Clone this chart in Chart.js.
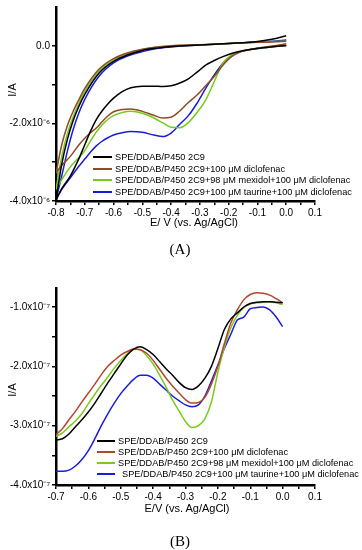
<!DOCTYPE html>
<html><head><meta charset="utf-8">
<script src="https://cdn.jsdelivr.net/npm/chart.js@4.4.1/dist/chart.umd.min.js"></script>
<style>
html,body{margin:0;padding:0;background:#fff;}
body{width:362px;height:550px;position:relative;overflow:hidden;font-family:"Liberation Sans",Arial,sans-serif;color:#000;}
canvas{position:absolute;left:0;}
.lbl{position:absolute;white-space:nowrap;color:#000;}
.yt{transform:translate(-50%,-50%) rotate(-90deg);font-size:11px;}
.xt{transform:translate(-50%,-50%);font-size:11px;}
.pan{transform:translate(-50%,-50%);font-family:"Liberation Serif","Times New Roman",serif;font-size:15px;}
.lrow{position:absolute;white-space:nowrap;font-size:9.2px;height:12px;line-height:12px;}
.sw{position:absolute;height:2px;}
</style></head><body>
<canvas id="cA" width="362" height="232" style="top:0"></canvas>
<canvas id="cB" width="362" height="232" style="top:280px"></canvas>
<div class="lbl yt" style="left:12px;top:90px">I/A</div>
<div class="lbl xt" style="left:194px;top:222px">E/ V (vs. Ag/AgCl)</div>
<div class="lbl pan" style="left:180px;top:249px">(A)</div>
<div class="lbl yt" style="left:12px;top:390px">I/A</div>
<div class="lbl xt" style="left:187px;top:508px">E/V (vs. Ag/AgCl)</div>
<div class="lbl pan" style="left:180px;top:541px">(B)</div>
<div id="legA"></div>
<div id="legB"></div>
<script>
// ---------- Series names ----------
const seriesNames = [
  "SPE/DDAB/P450 2C9",
  "SPE/DDAB/P450 2C9+100 \u03bcM diclofenac",
  "SPE/DDAB/P450 2C9+98 \u03bcM mexidol+100 \u03bcM diclofenac",
  "SPE/DDAB/P450 2C9+100 \u03bcM taurine+100 \u03bcM diclofenac"
];
const colorsA = ['#000000', '#8f4a26', '#72cc1c', '#1c1cd8'];
const colorsB = ['#000000', '#b3472e', '#7acb1e', '#1c1ce0'];

// ---------- Panel A: cyclic voltammograms (I in units of 1e-6 A) ----------
const eUpperA = [-0.80,-0.78,-0.76,-0.74,-0.72,-0.70,-0.65,-0.60,-0.55,-0.50,-0.45,-0.40,-0.35,-0.30,-0.20,-0.10,-0.05,0.00];
const upperA_black = [-3.97,-3.05,-2.40,-1.92,-1.55,-1.25,-0.70,-0.40,-0.23,-0.12,-0.06,-0.02,0.00,0.02,0.06,0.11,0.17,0.26];
const upperA_brown = [-3.28,-2.55,-2.05,-1.68,-1.38,-1.10,-0.60,-0.33,-0.18,-0.09,-0.03,0.00,0.02,0.03,0.06,0.09,0.10,0.12];
const upperA_green = [-3.70,-2.85,-2.25,-1.82,-1.48,-1.17,-0.65,-0.36,-0.20,-0.10,-0.04,-0.01,0.01,0.02,0.06,0.09,0.11,0.12];
const upperA_blue  = [-3.97,-3.35,-2.70,-2.15,-1.72,-1.38,-0.78,-0.44,-0.26,-0.15,-0.07,-0.03,0.00,0.02,0.06,0.10,0.12,0.15];

const eLowerA = [-0.80,-0.78,-0.75,-0.72,-0.70,-0.68,-0.66,-0.64,-0.62,-0.60,-0.57,-0.54,-0.50,-0.46,-0.43,-0.40,-0.37,-0.34,-0.31,-0.28,-0.25,-0.22,-0.19,-0.16,-0.12,-0.08,-0.04,0.00];
const lowerA_black = [-3.97,-3.68,-3.35,-2.90,-2.55,-2.20,-1.90,-1.68,-1.50,-1.35,-1.18,-1.08,-1.04,-1.04,-1.05,-1.03,-0.96,-0.85,-0.68,-0.50,-0.38,-0.28,-0.20,-0.14,-0.09,-0.05,-0.02,0.01];
const lowerA_brown = [-3.28,-3.08,-2.85,-2.55,-2.38,-2.24,-2.12,-1.96,-1.81,-1.70,-1.64,-1.63,-1.69,-1.79,-1.86,-1.84,-1.68,-1.46,-1.27,-1.03,-0.79,-0.50,-0.28,-0.16,-0.09,-0.04,0.00,0.05];
const lowerA_green = [-3.70,-3.45,-3.12,-2.88,-2.70,-2.45,-2.22,-2.04,-1.90,-1.80,-1.72,-1.69,-1.74,-1.86,-1.98,-2.10,-2.11,-1.98,-1.72,-1.40,-0.92,-0.45,-0.24,-0.15,-0.09,-0.05,-0.02,0.01];
const lowerA_blue  = [-3.97,-3.70,-3.40,-3.10,-2.92,-2.74,-2.58,-2.46,-2.37,-2.30,-2.24,-2.21,-2.23,-2.30,-2.34,-2.25,-2.02,-1.80,-1.48,-1.10,-0.75,-0.45,-0.25,-0.15,-0.09,-0.05,-0.02,0.01];

const yTicksA = [-4,-3,-2,-1,0];
const yTickLabelsA = ['-4.0x10\u207b\u2076','','-2.0x10\u207b\u2076','','0.0'];

// ---------- Panel B: linear sweeps (I in units of 1e-7 A) ----------
const eB = [-0.70,-0.68,-0.66,-0.64,-0.62,-0.60,-0.58,-0.56,-0.54,-0.52,-0.50,-0.48,-0.46,-0.44,-0.42,-0.40,-0.38,-0.36,-0.34,-0.32,-0.30,-0.28,-0.26,-0.24,-0.22,-0.20,-0.18,-0.16,-0.14,-0.12,-0.10,-0.08,-0.06,-0.04,-0.02,0.00];
const b_black = [-3.24,-3.22,-3.14,-3.02,-2.90,-2.77,-2.62,-2.45,-2.28,-2.12,-1.96,-1.81,-1.71,-1.67,-1.72,-1.80,-1.92,-2.04,-2.15,-2.27,-2.36,-2.39,-2.33,-2.20,-2.00,-1.70,-1.38,-1.20,-1.10,-1.00,-0.94,-0.92,-0.91,-0.91,-0.92,-0.93];
const b_brown = [-3.15,-3.05,-2.90,-2.76,-2.60,-2.45,-2.30,-2.14,-2.00,-1.90,-1.81,-1.75,-1.71,-1.72,-1.78,-1.90,-2.05,-2.20,-2.33,-2.45,-2.56,-2.62,-2.61,-2.52,-2.30,-2.00,-1.62,-1.27,-1.05,-0.88,-0.79,-0.76,-0.77,-0.80,-0.86,-0.93];
const b_green = [-3.18,-3.12,-3.02,-2.92,-2.80,-2.63,-2.47,-2.32,-2.18,-2.03,-1.90,-1.79,-1.71,-1.72,-1.82,-1.96,-2.15,-2.35,-2.57,-2.75,-2.93,-3.03,-3.00,-2.88,-2.60,-2.10,-1.68,-1.35,-1.14,-1.01,-0.95,-0.93,-0.92,-0.91,-0.93,-0.96];
const b_blue  = [-3.77,-3.77,-3.75,-3.68,-3.57,-3.42,-3.22,-3.00,-2.80,-2.62,-2.46,-2.33,-2.22,-2.15,-2.15,-2.20,-2.30,-2.40,-2.50,-2.58,-2.65,-2.68,-2.65,-2.50,-2.25,-1.98,-1.70,-1.46,-1.22,-1.17,-1.03,-1.01,-1.00,-1.05,-1.17,-1.33];

const yTicksB = [-4,-3.5,-3,-2.5,-2,-1.5,-1];
const yTickLabelsB = ['-4.0x10\u207b\u2077','','-3.0x10\u207b\u2077','','-2.0x10\u207b\u2077','','-1.0x10\u207b\u2077'];

function pts(xs, ys){ return xs.map((x,i)=>({x:x, y:ys[i]})); }
function ds(xs, ys, color){
  return {data:pts(xs,ys), borderColor:color, borderWidth:1.5, pointRadius:0, showLine:true,
          fill:false, cubicInterpolationMode:'monotone'};
}
function xTicks(min, max){
  const out=[]; for(let k=Math.round(min*20); k<=Math.round(max*20); k++) out.push(k);
  return out;
}
const tickFont = {family:'"Liberation Sans", Arial, sans-serif', size:10};

function makeChart(id, datasets, o){
  const xk = xTicks(o.xmin, o.xmax);
  return new Chart(document.getElementById(id), {
    type:'scatter',
    data:{datasets:datasets},
    options:{
      responsive:false, animation:false, events:[],
      layout:{padding:{top:o.top, right:47, left:0, bottom:0}},
      plugins:{legend:{display:false}, tooltip:{enabled:false}},
      scales:{
        x:{type:'linear', min:o.xmin, max:o.xmax,
           afterBuildTicks:s=>{ s.ticks = xk.map(k=>({value:k/20})); },
           afterFit:s=>{ s.height=o.xh; s.paddingLeft=0; s.paddingRight=0; },
           grid:{drawOnChartArea:false, drawTicks:true, tickLength:4, color:'#000', lineWidth:1.5},
           border:{display:true, color:'#000', width:2.5},
           ticks:{font:tickFont, color:'#000', padding:2, maxRotation:0, autoSkip:false,
             callback:(v,i)=>{ const k=xk[i]; if(k%2!==0) return ''; return Math.abs(k)<1e-9 ? '0.0' : (k/20).toFixed(1); }}
        },
        y:{type:'linear', min:o.ymin, max:o.ymax,
           afterBuildTicks:s=>{ s.ticks = o.yt.map(v=>({value:v})); },
           afterFit:s=>{ s.width=56; s.paddingTop=0; s.paddingBottom=0; },
           grid:{drawOnChartArea:false, drawTicks:true, tickLength:4, color:'#000', lineWidth:1.5},
           border:{display:true, color:'#000', width:2.5},
           ticks:{font:tickFont, color:'#000', padding:2, autoSkip:false,
             callback:(v,i)=> o.yl[i]}
        }
      }
    }
  });
}

const dsA = [
  ds(eUpperA, upperA_black, colorsA[0]), ds(eLowerA, lowerA_black, colorsA[0]),
  ds(eUpperA, upperA_brown, colorsA[1]), ds(eLowerA, lowerA_brown, colorsA[1]),
  ds(eUpperA, upperA_green, colorsA[2]), ds(eLowerA, lowerA_green, colorsA[2]),
  ds(eUpperA, upperA_blue,  colorsA[3]), ds(eLowerA, lowerA_blue,  colorsA[3])
];
makeChart('cA', dsA, {xmin:-0.8, xmax:0.1, ymin:-4, ymax:1, top:7, xh:31, yt:yTicksA, yl:yTickLabelsA});

const dsB = [
  ds(eB, b_black, colorsB[0]), ds(eB, b_brown, colorsB[1]),
  ds(eB, b_green, colorsB[2]), ds(eB, b_blue, colorsB[3])
];
makeChart('cB', dsB, {xmin:-0.7, xmax:0.1, ymin:-4, ymax:-0.68, top:8, xh:27, yt:yTicksB, yl:yTickLabelsB});

// ---------- HTML legends ----------
function legend(elId, colors, top0, step, swX, swW, txtX, extra){
  const el = document.getElementById(elId);
  seriesNames.forEach((n,i)=>{
    const cy = top0 + i*step;
    const sw = document.createElement('div');
    sw.className='sw'; sw.style.left=swX+'px'; sw.style.width=swW+'px';
    sw.style.top=(cy-1)+'px'; sw.style.background=colors[i];
    el.appendChild(sw);
    const t = document.createElement('div');
    t.className='lrow'; t.style.left=(txtX+(extra[i]||0))+'px'; t.style.top=(cy-6)+'px';
    t.textContent=n; el.appendChild(t);
  });
}
legend('legA', colorsA, 157, 11.7, 93, 19, 115, [0,0,0,0]);
legend('legB', colorsB, 441, 11.1, 97, 18, 118, [0,0,0,4]);
</script>
</body></html>
